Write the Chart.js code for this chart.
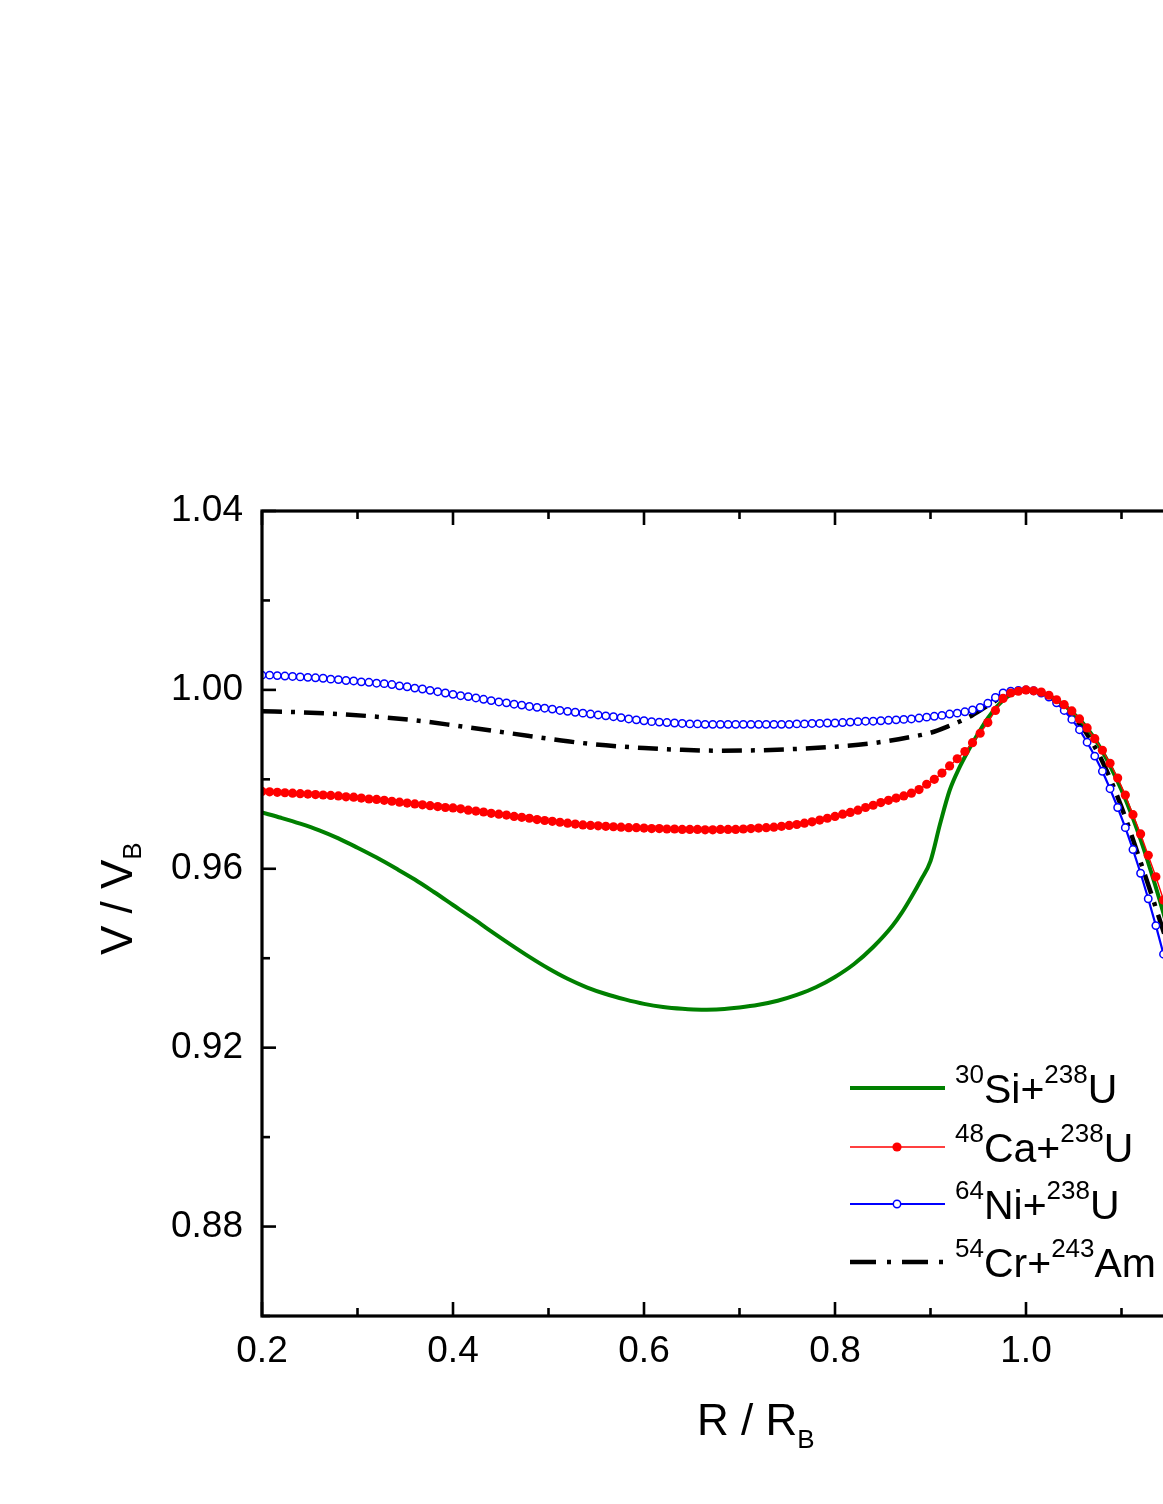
<!DOCTYPE html>
<html><head><meta charset="utf-8">
<script src="https://cdn.jsdelivr.net/npm/chart.js@4/dist/chart.umd.min.js"></script>
<style>html,body{margin:0;padding:0;background:#fff;overflow:hidden}canvas{display:block}</style>
</head><body>
<canvas id="c" width="1300" height="1504"></canvas>
<script>
// R / R_B grid shared by the 48Ca and 64Ni curves
const R = [
0.200,0.208,0.216,0.224,0.232,0.240,0.248,0.256,0.264,0.272,
0.280,0.288,0.296,0.304,0.312,0.320,0.328,0.336,0.344,0.352,
0.360,0.368,0.376,0.384,0.392,0.400,0.408,0.416,0.424,0.432,
0.440,0.448,0.456,0.464,0.472,0.480,0.488,0.496,0.504,0.512,
0.520,0.528,0.536,0.544,0.552,0.560,0.568,0.576,0.584,0.592,
0.600,0.608,0.616,0.624,0.632,0.640,0.648,0.656,0.664,0.672,
0.680,0.688,0.696,0.704,0.712,0.720,0.728,0.736,0.744,0.752,
0.760,0.768,0.776,0.784,0.792,0.800,0.808,0.816,0.824,0.832,
0.840,0.848,0.856,0.864,0.872,0.880,0.888,0.896,0.904,0.912,
0.920,0.928,0.936,0.944,0.952,0.960,0.968,0.976,0.984,0.992,
1.000,1.008,1.016,1.024,1.032,1.040,1.048,1.056,1.064,1.072,
1.080,1.088,1.096,1.104,1.112,1.120,1.128,1.136,1.144,1.152];

const vCa = [
0.9773,0.9772,0.9771,0.9770,0.9769,0.9768,0.9767,0.9766,0.9765,0.9764,
0.9763,0.9761,0.9760,0.9758,0.9756,0.9755,0.9753,0.9751,0.9749,0.9747,
0.9745,0.9743,0.9741,0.9739,0.9737,0.9736,0.9734,0.9731,0.9729,0.9727,
0.9724,0.9722,0.9720,0.9717,0.9715,0.9713,0.9710,0.9708,0.9706,0.9704,
0.9702,0.9700,0.9698,0.9697,0.9696,0.9695,0.9694,0.9693,0.9692,0.9692,
0.9691,0.9690,0.9690,0.9689,0.9689,0.9688,0.9688,0.9688,0.9687,0.9687,
0.9688,0.9688,0.9688,0.9689,0.9690,0.9691,0.9692,0.9693,0.9695,0.9697,
0.9699,0.9702,0.9705,0.9709,0.9713,0.9717,0.9722,0.9726,0.9731,0.9737,
0.9742,0.9748,0.9753,0.9758,0.9763,0.9769,0.9777,0.9789,0.9800,0.9814,
0.9830,0.9846,0.9862,0.9882,0.9903,0.9927,0.9954,0.9981,0.9993,0.9997,
1.0000,0.9998,0.9995,0.9988,0.9978,0.9967,0.9953,0.9935,0.9915,0.9891,
0.9865,0.9836,0.9803,0.9765,0.9721,0.9678,0.9630,0.9582,0.9530,0.9475];

const vNi = [
1.0033,1.0033,1.0032,1.0031,1.0030,1.0029,1.0028,1.0027,1.0026,1.0024,
1.0023,1.0021,1.0020,1.0018,1.0017,1.0015,1.0014,1.0012,1.0009,1.0007,
1.0004,1.0002,0.9999,0.9996,0.9993,0.9990,0.9987,0.9985,0.9982,0.9979,
0.9976,0.9973,0.9971,0.9968,0.9966,0.9963,0.9961,0.9959,0.9957,0.9954,
0.9952,0.9950,0.9948,0.9946,0.9944,0.9942,0.9940,0.9938,0.9935,0.9933,
0.9931,0.9929,0.9928,0.9927,0.9926,0.9925,0.9924,0.9924,0.9923,0.9923,
0.9923,0.9923,0.9923,0.9923,0.9923,0.9923,0.9923,0.9923,0.9923,0.9923,
0.9924,0.9924,0.9925,0.9925,0.9926,0.9926,0.9927,0.9928,0.9929,0.9930,
0.9930,0.9931,0.9932,0.9933,0.9934,0.9935,0.9937,0.9939,0.9941,0.9943,
0.9946,0.9948,0.9951,0.9955,0.9961,0.9970,0.9983,0.9993,0.9997,0.9999,
1.0000,0.9998,0.9993,0.9984,0.9971,0.9954,0.9934,0.9911,0.9883,0.9852,
0.9818,0.9779,0.9737,0.9692,0.9643,0.9590,0.9533,0.9473,0.9409,0.9342];

// 30Si + 238U (solid line)
const R_Si = [
0.20,0.22,0.24,0.26,0.28,0.30,0.32,0.34,0.36,0.38,
0.40,0.42,0.44,0.46,0.48,0.50,0.52,0.54,0.56,0.58,
0.60,0.62,0.64,0.66,0.68,0.70,0.72,0.74,0.76,0.78,
0.80,0.82,0.84,0.86,
0.87,0.88,0.89,0.90,0.91,0.92,0.93,0.94,0.95,0.96,
0.97,0.98,0.99,1.00,1.01,1.02,1.03,1.04,1.05,1.06,
1.07,1.08,1.09,1.10,1.11,1.12,1.13,1.14,1.15,1.16];
const vSi = [
0.9726,0.9714,0.9701,0.9686,0.9668,0.9647,0.9625,0.9601,0.9576,0.9548,
0.9519,0.9490,0.9460,0.9431,0.9403,0.9377,0.9354,0.9335,0.9320,0.9308,
0.9298,0.9291,0.9287,0.9285,0.9286,0.9290,0.9296,0.9305,0.9318,0.9335,
0.9358,0.9387,0.9425,0.9472,
0.9502,0.9537,0.9575,0.9617,0.9700,0.9775,0.9825,0.9866,0.9903,0.9937,
0.9964,0.9984,0.9995,1.0000,0.9996,0.9990,0.9980,0.9966,0.9947,0.9925,
0.9897,0.9862,0.9822,0.9776,0.9724,0.9665,0.9600,0.9530,0.9455,0.9375];

// 54Cr + 243Am (dash-dot line)
const R_Cr = [
0.20,0.24,0.28,0.32,0.36,0.40,0.44,0.48,0.52,0.56,
0.60,0.64,0.68,0.72,0.76,0.80,0.84,0.88,
0.90,0.92,0.94,0.96,0.98,1.00,1.02,1.04,1.06,1.08,1.10,1.12,1.14,1.16];
const vCr = [
0.9952,0.9950,0.9946,0.9940,0.9932,0.9921,0.9909,0.9897,0.9885,0.9876,
0.9870,0.9866,0.9864,0.9865,0.9868,0.9873,0.9881,0.9895,
0.9904,0.9920,0.9939,0.9965,0.9990,1.0000,0.9990,0.9960,0.9913,0.9840,0.9738,0.9615,0.9486,0.9350];

const xTicks = [0.2,0.4,0.6,0.8,1.0,1.2];
const xMinor = [0.3,0.5,0.7,0.9,1.1];
const yTicks = [0.88,0.92,0.96,1.00,1.04];
const yMinor = [0.86,0.90,0.94,0.98,1.02];

const legendItems = [
  {parts:[['30','sup'],['Si+',''],['238','sup'],['U','']], color:'#008000', kind:'line'},
  {parts:[['48','sup'],['Ca+',''],['238','sup'],['U','']], color:'#ff0000', kind:'dot'},
  {parts:[['64','sup'],['Ni+',''],['238','sup'],['U','']], color:'#0000ff', kind:'circle'},
  {parts:[['54','sup'],['Cr+',''],['243','sup'],['Am','']], color:'#000000', kind:'dashdot'}
];

const FONT = 'Liberation Sans, Arial, sans-serif';
const DASH = [20,9,4,9];

const pts = (xs, ys) => xs.map((x,i)=>({x:x, y:ys[i]}));

function drawRich(ctx, parts, x, y, mainSize, smallSize, supOff, subOff){
  ctx.textAlign='left'; ctx.textBaseline='alphabetic';
  for(const [t,k] of parts){
    if(k==='sup'){ ctx.font = smallSize+'px '+FONT; ctx.fillText(t, x, y - supOff); }
    else if(k==='sub'){ ctx.font = smallSize+'px '+FONT; ctx.fillText(t, x, y + subOff); }
    else { ctx.font = mainSize+'px '+FONT; ctx.fillText(t, x, y); }
    x += ctx.measureText(t).width;
  }
  return x;
}

const framePlugin = {
  id:'frame',
  afterDatasetsDraw(chart){
    const {ctx, chartArea:a} = chart;
    const xs = chart.scales.x, ys = chart.scales.y;
    ctx.save();
    ctx.strokeStyle='#000'; ctx.lineCap='butt';
    ctx.lineWidth=3.2;
    ctx.strokeRect(a.left, a.top, a.right-a.left, a.bottom-a.top);
    ctx.lineWidth=2.6;
    const seg=(x1,y1,x2,y2)=>{ctx.beginPath();ctx.moveTo(x1,y1);ctx.lineTo(x2,y2);ctx.stroke();};
    const MJ=14, MN=8;
    xTicks.forEach(v=>{const p=xs.getPixelForValue(v); seg(p,a.bottom,p,a.bottom-MJ); seg(p,a.top,p,a.top+MJ);});
    xMinor.forEach(v=>{const p=xs.getPixelForValue(v); seg(p,a.bottom,p,a.bottom-MN); seg(p,a.top,p,a.top+MN);});
    yTicks.forEach(v=>{const p=ys.getPixelForValue(v); seg(a.left,p,a.left+MJ,p); seg(a.right,p,a.right-MJ,p);});
    yMinor.forEach(v=>{const p=ys.getPixelForValue(v); seg(a.left,p,a.left+MN,p); seg(a.right,p,a.right-MN,p);});
    ctx.restore();
  },
  afterDraw(chart){
    const ctx = chart.ctx;
    ctx.save();
    ctx.fillStyle='#000';
    // x title
    drawRich(ctx, [['R / R',''],['B','sub']], 697, 1435, 44, 26, 0, 13);
    // y title (rotated)
    ctx.save();
    ctx.translate(132, 955);
    ctx.rotate(-Math.PI/2);
    drawRich(ctx, [['V / V',''],['B','sub']], 0, 0, 44, 26, 0, 9);
    ctx.restore();
    // legend
    const rows=[1088,1147,1204,1262];
    legendItems.forEach((it,i)=>{
      const y=rows[i];
      ctx.save();
      ctx.strokeStyle=it.color;
      ctx.lineWidth = it.kind==='line'?4 : it.kind==='dot'?1.4 : it.kind==='circle'?2.2 : 4.5;
      if(it.kind==='dashdot') ctx.setLineDash([26,11,4,11]);
      ctx.beginPath(); ctx.moveTo(850,y); ctx.lineTo(945,y); ctx.stroke();
      ctx.setLineDash([]);
      if(it.kind==='dot'){ctx.fillStyle=it.color;ctx.beginPath();ctx.arc(897,y,4.6,0,Math.PI*2);ctx.fill();}
      if(it.kind==='circle'){ctx.fillStyle='#fff';ctx.lineWidth=1.5;ctx.beginPath();ctx.arc(897,y,3.7,0,Math.PI*2);ctx.fill();ctx.stroke();}
      ctx.restore();
      ctx.fillStyle='#000';
      drawRich(ctx, it.parts, 955, y+15, 41, 26, 20, 0);
    });
    ctx.restore();
  }
};

new Chart(document.getElementById('c').getContext('2d'), {
  type:'line',
  data:{datasets:[
    {label:'30Si+238U', data:pts(R_Si,vSi), borderColor:'#008000', borderWidth:4, pointRadius:0, cubicInterpolationMode:'monotone', order:1},
    {label:'48Ca+238U', data:pts(R,vCa), borderColor:'#ff0000', borderWidth:1.4, pointRadius:4.6, pointBackgroundColor:'#ff0000', pointBorderColor:'#ff0000', pointBorderWidth:0, order:0},
    {label:'64Ni+238U', data:pts(R,vNi), borderColor:'#0000ff', borderWidth:2.2, pointRadius:3.7, pointBackgroundColor:'#ffffff', pointBorderColor:'#0000ff', pointBorderWidth:1.5, order:2},
    {label:'54Cr+243Am', data:pts(R_Cr,vCr), borderColor:'#000000', borderWidth:4.5, borderDash:DASH, borderCapStyle:'butt', pointRadius:0, cubicInterpolationMode:'monotone', order:3}
  ]},
  options:{
    responsive:false, animation:false, devicePixelRatio:1,
    layout:{padding:{left:0, right:83, top:511, bottom:0}},
    plugins:{legend:{display:false}, tooltip:{enabled:false}},
    scales:{
      x:{type:'linear', min:0.2, max:1.2,
         afterBuildTicks:s=>{s.ticks=xTicks.map(v=>({value:v}));},
         afterFit:s=>{s.height=188;},
         grid:{display:false, drawTicks:false}, border:{display:false},
         ticks:{padding:14, color:'#000', font:{family:FONT, size:37}, maxRotation:0, autoSkip:false, callback:v=>Number(v).toFixed(1)}},
      y:{type:'linear', min:0.86, max:1.04,
         afterBuildTicks:s=>{s.ticks=yTicks.map(v=>({value:v}));},
         afterFit:s=>{s.width=262;},
         grid:{display:false, drawTicks:false}, border:{display:false},
         ticks:{padding:19, color:'#000', font:{family:FONT, size:37}, autoSkip:false, callback:v=>Number(v).toFixed(2)}}
    }
  },
  plugins:[framePlugin]
});
</script>
</body></html>
